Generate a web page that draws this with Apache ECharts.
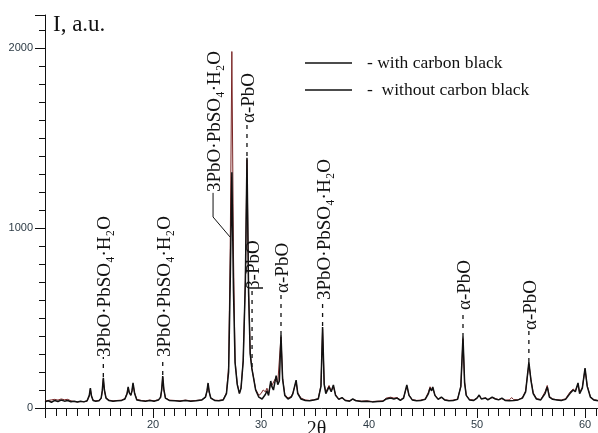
<!DOCTYPE html>
<html><head><meta charset="utf-8">
<script src="https://cdn.jsdelivr.net/npm/echarts@6/dist/echarts.min.js"></script>
<style>html,body{margin:0;padding:0;background:#fff}#c{width:598px;height:433px}</style>
</head><body><div id="c"></div>
<script>
const seriesNames = ['with carbon black', 'without carbon black'];
const withCB = [[10.0,35],[10.3,40],[10.6,32],[10.9,42],[11.2,36],[11.5,44],[11.8,38],[12.1,42],[12.4,35],[12.7,38],[13.0,33],[13.3,37],[13.6,34],[13.9,40],
[14.0,45],[14.1,70],[14.2,110],[14.3,68],[14.45,42],[14.7,38],[15.0,40],[15.2,55],
[15.3,95],[15.4,167],[15.5,100],[15.65,55],[15.9,42],[16.3,38],[16.7,40],[17.1,42],[17.4,50],
[17.6,80],[17.7,117],[17.8,85],[17.95,70],[18.05,95],[18.15,139],[18.3,80],[18.5,45],[18.9,40],[19.3,38],[19.7,42],[20.1,38],[20.5,44],[20.7,60],
[20.8,100],[20.9,178],[21.0,105],[21.15,55],[21.5,42],[22.0,40],[22.5,38],[23.0,42],[23.5,38],[24.0,40],[24.5,44],[24.85,60],
[25.0,95],[25.1,139],[25.2,90],[25.35,55],[25.7,42],[26.1,40],[26.5,45],[26.8,80],[27.0,200],[27.15,700],[27.3,1310],[27.45,650],[27.6,250],[27.8,130],[28.0,80],[28.15,110],[28.35,260],[28.55,700],[28.7,1390],[28.85,640],[29.0,300],[29.15,220],[29.3,170],[29.5,100],[29.8,60],[30.1,50],[30.4,75],[30.55,95],[30.7,70],[30.9,150],[31.0,120],[31.15,100],[31.4,180],[31.55,130],[31.7,150],[31.85,405],[32.0,160],[32.2,70],[32.5,50],[32.8,60],[32.95,80],[33.1,70],[33.25,155],[33.4,80],[33.7,50],[34.1,42],[34.5,40],[34.9,44],[35.3,50],[35.55,120],[35.7,450],[35.85,130],[36.0,80],[36.3,117],[36.5,90],[36.7,128],[36.9,70],[37.2,48],[37.5,58],[37.8,42],[38.2,38],[38.5,50],[38.8,40],[39.3,36],[39.8,38],[40.3,34],[40.8,36],[41.3,38],[41.6,50],[41.75,61],[42.0,55],[42.3,50],[42.6,55],[42.9,42],[43.2,55],[43.5,128],[43.7,70],[44.0,45],[44.4,40],[44.8,42],[45.2,48],[45.5,80],[45.65,111],[45.8,95],[45.9,117],[46.1,70],[46.4,48],[46.7,61],[47.0,45],[47.4,40],[47.8,42],[48.2,48],[48.5,120],[48.7,395],[48.85,140],[49.0,70],[49.3,45],[49.7,42],[50.0,55],[50.2,72],[50.4,50],[50.8,55],[51.0,45],[51.4,61],[51.7,50],[52.0,45],[52.3,55],[52.6,42],[53.0,40],[53.4,42],[53.8,45],[54.2,55],[54.5,90],[54.8,255],[55.0,150],[55.2,80],[55.5,50],[55.9,45],[56.3,80],[56.5,117],[56.7,60],[57.0,48],[57.4,45],[57.8,42],[58.2,48],[58.6,80],[58.9,100],[59.1,90],[59.35,139],[59.5,80],[59.75,110],[60.0,222],[60.2,120],[60.5,60],[60.8,45],[61.2,40]];
const withoutCB = [[10.0,38],[10.3,42],[10.6,45],[10.9,48],[11.2,44],[11.5,50],[11.8,46],[12.1,48],[12.4,40],[12.7,36],[13.0,34],[13.3,36],[13.6,35],[13.9,38],[14.0,44],[14.1,66],[14.2,105],[14.3,66],[14.45,44],[14.7,40],[15.0,42],[15.2,52],[15.3,90],[15.4,160],[15.5,98],[15.65,56],[15.9,44],[16.3,40],[16.7,42],[17.1,44],[17.4,52],[17.6,82],[17.7,112],[17.8,86],[17.95,72],[18.05,92],[18.15,132],[18.3,82],[18.5,48],[18.9,42],[19.3,40],[19.7,44],[20.1,40],[20.5,46],[20.7,58],[20.8,96],[20.9,172],[21.0,102],[21.15,56],[21.5,44],[22.0,42],[22.5,40],[23.0,44],[23.5,40],[24.0,42],[24.5,45],[24.85,58],[25.0,92],[25.1,134],[25.2,88],[25.35,56],[25.7,44],[26.1,42],[26.5,46],[26.8,85],[27.0,230],[27.15,900],[27.3,1980],[27.45,850],[27.6,260],[27.8,135],[28.0,82],[28.15,112],[28.35,265],[28.55,710],[28.7,1380],[28.85,650],[29.0,305],[29.15,222],[29.3,172],[29.5,105],[29.8,70],[30.0,80],[30.2,100],[30.4,90],[30.55,110],[30.7,80],[30.9,140],[31.0,125],[31.15,120],[31.3,160],[31.4,170],[31.55,140],[31.7,145],[31.85,395],[32.0,165],[32.2,75],[32.5,55],[32.8,65],[32.95,82],[33.1,75],[33.25,148],[33.4,85],[33.7,55],[34.1,45],[34.5,42],[34.9,46],[35.3,52],[35.55,125],[35.7,440],[35.85,135],[36.0,90],[36.3,125],[36.5,95],[36.7,120],[36.9,75],[37.2,50],[37.5,56],[37.8,44],[38.2,40],[38.5,48],[38.8,42],[39.3,38],[39.8,40],[40.3,36],[40.8,38],[41.3,40],[41.6,55],[41.75,66],[42.0,60],[42.3,55],[42.6,58],[42.9,45],[43.2,58],[43.5,122],[43.7,72],[44.0,47],[44.4,42],[44.8,44],[45.2,50],[45.5,88],[45.65,118],[45.8,100],[45.9,112],[46.1,72],[46.4,50],[46.7,58],[47.0,46],[47.4,42],[47.8,44],[48.2,50],[48.5,118],[48.7,385],[48.85,145],[49.0,72],[49.3,47],[49.7,44],[50.0,56],[50.2,70],[50.4,52],[50.8,56],[51.0,47],[51.4,58],[51.7,52],[52.0,47],[52.3,52],[52.6,44],[53.0,45],[53.2,58],[53.4,46],[53.8,46],[54.2,58],[54.5,95],[54.8,245],[55.0,155],[55.2,85],[55.5,52],[55.9,47],[56.3,90],[56.5,125],[56.7,65],[57.0,50],[57.4,46],[57.8,44],[58.2,52],[58.6,88],[58.9,105],[59.1,95],[59.35,132],[59.5,85],[59.75,115],[60.0,215],[60.2,125],[60.5,62],[60.8,47],[61.2,42]];
// annotation: [2theta, dashed-line bottom I, dashed-line top I]
const annoPos = [[15.4,172,283],[20.9,183,283],[25.56,1200,1200],[28.7,1400,1583],[29.17,228,655],[31.85,405,639],[35.7,455,600],[48.7,395,544],[54.8,255,433]];
const annoText = ['3PbO·PbSO₄·H₂O','3PbO·PbSO₄·H₂O','3PbO·PbSO₄·H₂O','α-PbO','β-PbO','α-PbO','3PbO·PbSO₄·H₂O','α-PbO','α-PbO'];
const leader = [[25.56,1195],[25.56,1061],[27.13,950]];
const xRange = [10, 61.2];
const yRange = [0, 2183];

const SERIF = "'Liberation Serif','DejaVu Serif',serif";
const SANS = "'Liberation Sans',Arial,sans-serif";
const chart = echarts.init(document.getElementById('c'), null, {renderer:'canvas'});
chart.setOption({
  animation: false,
  backgroundColor: '#fff',
  grid: {left: 45, right: 0, top: 15, bottom: 25, containLabel: false, outerBoundsMode: 'none'},
  legend: {
    orient: 'vertical', left: 305, top: 54, itemGap: 9, padding: 0,
    icon: 'rect', itemWidth: 47, itemHeight: 1.3,
    data: [{name: seriesNames[0], itemStyle:{color:'#111'}}, {name: seriesNames[1], itemStyle:{color:'#111'}}],
    formatter: n => (n === seriesNames[0] ? '- ' : '-  ') + n,
    textStyle: {fontFamily: SERIF, fontSize: 17.5, color: '#111', lineHeight: 18, padding: [0,0,0,10]}
  },
  xAxis: {
    type: 'value', min: xRange[0], max: xRange[1], interval: 10,
    name: '2θ', nameLocation: 'middle', nameGap: 12, nameMoveOverlap: false,
    nameTextStyle: {fontFamily: SERIF, fontSize: 20, color: '#111', verticalAlign: 'top', padding:[0,10,0,0]},
    axisLine: {lineStyle: {color: '#111', width: 1}},
    axisTick: {show: true, length: 10, lineStyle: {color: '#111'}},
    minorTick: {show: true, splitNumber: 10, length: 8, lineStyle: {color: '#111'}},
    splitLine: {show: false},
    axisLabel: {fontFamily: SANS, fontSize: 11, color: '#2d3b45', margin: 11, showMinLabel: false, showMaxLabel: false,
      formatter: v => String(v)}
  },
  yAxis: {
    type: 'value', min: yRange[0], max: yRange[1], interval: 1000,
    name: 'I, a.u.', nameLocation: 'end', nameGap: -10, nameMoveOverlap: false,
    nameTextStyle: {fontFamily: SERIF, fontSize: 23, color: '#111', align: 'left', verticalAlign: 'middle', padding: [0,0,0,8]},
    axisLine: {show: true, lineStyle: {color: '#111', width: 1}},
    axisTick: {show: true, length: 10, lineStyle: {color: '#111'}},
    minorTick: {show: true, splitNumber: 10, length: 6, lineStyle: {color: '#111'}},
    splitLine: {show: false},
    axisLabel: {fontFamily: SANS, fontSize: 11, color: '#2d3b45', margin: 12, showMaxLabel: false,
      formatter: v => String(v)}
  },
  series: [
    {name: seriesNames[0], type: 'line', data: withCB, showSymbol: false, symbol: 'none', z: 4,
     lineStyle: {color: '#111', width: 1.5}, itemStyle:{color:'#111'}},
    {name: seriesNames[1], type: 'line', data: withoutCB, showSymbol: false, symbol: 'none', z: 3,
     lineStyle: {color: '#7a2626', width: 1}, itemStyle:{color:'#7a2626'}},
    {type: 'line', data: leader, showSymbol: false, symbol: 'none', z: 5, silent: true,
     lineStyle: {color: '#111', width: 1}},
    {type: 'custom', data: annoPos, z: 6, silent: true, clip: false,
     encode: {x: 0, y: [1, 2]},
     renderItem: function (params, api) {
       const p1 = api.coord([api.value(0), api.value(1)]);
       const p2 = api.coord([api.value(0), api.value(2)]);
       const children = [];
       if (Math.abs(p1[1] - p2[1]) > 1) {
         children.push({type: 'line', shape: {x1: p1[0], y1: p1[1], x2: p2[0], y2: p2[1]},
           style: {stroke: '#111', lineWidth: 1.3, lineDash: [4, 5]}});
       }
       children.push({type: 'text', x: p2[0] + 2, y: p2[1], rotation: Math.PI / 2,
         style: {text: annoText[params.dataIndex], align: 'left', verticalAlign: 'middle',
           font: '19px ' + SERIF, fill: '#111'}});
       return {type: 'group', children: children};
     }}
  ]
});
</script></body></html>
